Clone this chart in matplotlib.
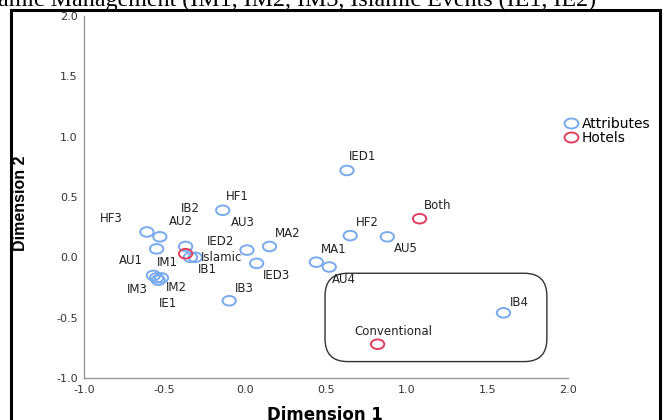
import matplotlib
matplotlib.use("Agg")
import matplotlib.pyplot as plt
from matplotlib.patches import FancyBboxPatch, Rectangle
from matplotlib.lines import Line2D
from matplotlib.path import Path
from matplotlib.transforms import Affine2D

# Joint-space coordinates (Dimension 1, Dimension 2)
attr_names = ["HF1", "IB2", "HF3", "AU2", "AU1", "IED2", "IB1", "AU3", "MA2",
              "IED3", "IM1", "IM2", "IM3", "IE1", "IB3", "IED1", "HF2", "AU5",
              "MA1", "AU4", "IB4"]
attr_dim1 = [-0.14, -0.34, -0.61, -0.53, -0.55, -0.37, -0.31, 0.01, 0.15,
             0.07, -0.52, -0.55, -0.57, -0.54, -0.10, 0.63, 0.65, 0.88,
             0.44, 0.52, 1.60]
attr_dim2 = [0.39, 0.00, 0.21, 0.17, 0.07, 0.09, 0.00, 0.06, 0.09,
             -0.05, -0.17, -0.17, -0.15, -0.19, -0.36, 0.72, 0.18, 0.17,
             -0.04, -0.08, -0.46]

hotel_names = ["Islamic", "Both", "Conventional"]
hotel_dim1 = [-0.37, 1.08, 0.82]
hotel_dim2 = [0.03, 0.32, -0.72]

x_ticks = [-1.0, -0.5, 0.0, 0.5, 1.0, 1.5, 2.0]
y_ticks = [-1.0, -0.5, 0.0, 0.5, 1.0, 1.5, 2.0]

# label offsets in pixels (dx right, dy up)
label_offsets = {
    "HF1": (15, 14), "IB2": (0, 49), "HF3": (-36, 13), "AU2": (21, 15),
    "AU1": (-26, -12), "IED2": (35, 5), "IB1": (12, -12), "AU3": (-4, 28),
    "MA2": (18, 13), "IED3": (20, -12), "IM1": (6, 15), "IM2": (20, -10),
    "IM3": (-16, -14), "IE1": (10, -23), "IB3": (15, 12), "IED1": (16, 14),
    "HF2": (17, 13), "AU5": (19, -12), "MA1": (17, 13), "AU4": (15, -13),
    "IB4": (16, 10), "Islamic": (36, -4), "Both": (18, 13),
    "Conventional": (16, 13),
}

BLUE = "#78AAEE"
RED = "#E0405E"
FONT = "DejaVu Sans"

# slightly flattened open marker
ring = Path.unit_circle().transformed(Affine2D().scale(1.0, 0.72))

fig = plt.figure(figsize=(6.72, 4.2), dpi=100)
ax = fig.add_axes([84 / 672, 1 - 378 / 420, (568 - 84) / 672, (378 - 16) / 420])

ax.scatter(attr_dim1, attr_dim2, s=92, marker=ring, facecolors="none",
           edgecolors=BLUE, linewidths=1.4, zorder=3)
ax.scatter(hotel_dim1, hotel_dim2, s=92, marker=ring, facecolors="none",
           edgecolors=RED, linewidths=1.4, zorder=4)

for name, x, y in list(zip(attr_names, attr_dim1, attr_dim2)) + \
        list(zip(hotel_names, hotel_dim1, hotel_dim2)):
    dx, dy = label_offsets[name]
    ax.annotate(name, (x, y), xytext=(dx, dy), textcoords="offset pixels",
                ha="center", va="center", fontsize=8.5, family=FONT,
                color="#222222", zorder=5)

# rounded box around the conventional group
box = FancyBboxPatch((0.494, -0.864), 1.869 - 0.494, -0.132 + 0.864,
                     boxstyle="round,pad=0,rounding_size=0.14",
                     mutation_aspect=1.34, facecolor="none",
                     edgecolor="#333333", linewidth=1.0, zorder=2)
ax.add_patch(box)

ax.set_xlim(-1.0, 2.0)
ax.set_ylim(-1.0, 2.0)
ax.set_xticks(x_ticks)
ax.set_yticks(y_ticks)
ax.set_xticklabels([f"{t:.1f}" for t in x_ticks])
ax.set_yticklabels([f"{t:.1f}" for t in y_ticks])
ax.tick_params(axis="both", length=0, labelsize=8, labelcolor="#333333")
ax.tick_params(axis="y", pad=4.5)
ax.tick_params(axis="x", pad=5)
for lab in ax.get_xticklabels() + ax.get_yticklabels():
    lab.set_family(FONT)
for side in ("top", "right"):
    ax.spines[side].set_visible(False)
for side in ("left", "bottom"):
    ax.spines[side].set_color("#999999")
    ax.spines[side].set_linewidth(1.0)

fig.text(21 / 672, 1 - 203 / 420, "Dimension 2", fontsize=11.5,
         fontweight="bold", family="Liberation Sans", rotation=90,
         ha="center", va="center")
fig.text(325 / 672, 1 - 406 / 420, "Dimension 1", fontsize=12,
         fontweight="bold", family=FONT, ha="center", va="top")

handles = [
    Line2D([], [], marker=ring, linestyle="none", markersize=10,
           markerfacecolor="none", markeredgecolor=BLUE, markeredgewidth=1.4),
    Line2D([], [], marker=ring, linestyle="none", markersize=10,
           markerfacecolor="none", markeredgecolor=RED, markeredgewidth=1.4),
]
fig.legend(handles, ["Attributes", "Hotels"], loc="upper left",
           bbox_to_anchor=(559 / 672, 1 - 111 / 420), frameon=False,
           prop={"family": FONT, "size": 10}, handlelength=0.9,
           handletextpad=0.35, labelspacing=0.0, borderaxespad=0)

# document frame and the caption line above it
fig.patches.append(Rectangle((10.5 / 672, -0.05), 649 / 672, 1.05 - 10.5 / 420,
                             transform=fig.transFigure, facecolor="none",
                             edgecolor="black", linewidth=2.2))
fig.text(-2 / 672, 1 - 6 / 420,
         "amic Management (IM1, IM2, IM3, Islamic Events (IE1, IE2)",
         fontsize=17.3, family="Liberation Serif", ha="left", va="baseline",
         color="black")

fig.savefig("out.png", dpi=100)
